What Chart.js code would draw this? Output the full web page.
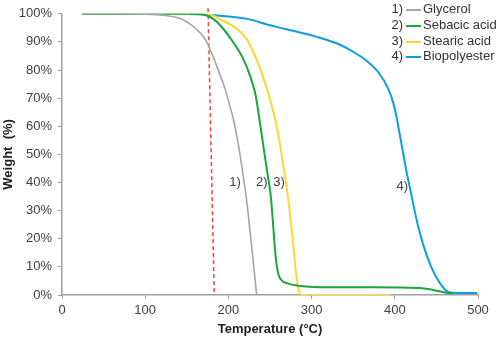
<!DOCTYPE html>
<html>
<head>
<meta charset="utf-8">
<script src="https://cdn.jsdelivr.net/npm/chart.js@4"></script>
<style>
  html, body { margin: 0; padding: 0; background: #fff; }
  #wrap { width: 498px; height: 337px; }
</style>
</head>
<body>
<div id="wrap"><canvas id="tga"></canvas></div>
<script>
// TGA curves: [temperature °C, weight %]
const glycerol = [[24,100],[60,100],[100,99.9],[125,99.4],[142,98.3],[157,95.7],[172,91],[180,86],[188,79.8],[196,73.3],[201,68],[206,62.5],[212,53.5],[218,42],[222,33.5],[228,17],[234,0]];
const sebacicAcid = [[24,100],[100,100],[150,100],[166,99.9],[182,98.1],[194,94.6],[206,89.8],[218,83.9],[226,78],[232,72],[235,67],[240,57],[246,45],[251,35],[254,24],[257,13],[260,7.5],[264,5.2],[270,4.2],[286,3.2],[310,2.8],[370,2.8],[430,2.5],[446,1.8],[463,0.7],[470,0.6]];
const stearicAcid = [[24,100],[100,100],[174,99.9],[194,97.5],[210,94.7],[222,91],[232,85],[240,79],[246,73.5],[252,67.5],[260,57],[266,46],[272,34],[278,17.7],[282,6],[286,0.5],[290,0],[395,0]];
const biopolyester = [[24,100],[100,100],[150,99.9],[190,99.3],[224,98.1],[250,95.9],[270,94.5],[306,91.8],[334,89],[350,86.5],[366,83.3],[380,79.3],[392,73.4],[398,68.5],[402,63.5],[406,57],[410,50.5],[414,44],[420,35.5],[426,27],[434,18],[444,9.8],[454,4.3],[464,1.1],[475,0.7],[499,0.7]];
const onsetLine = [[175.5,102],[183,0]];

const seriesNames = ["Glycerol", "Sebacic acid", "Stearic acid", "Biopolyester"];
const seriesColors = ["#a6a6a6", "#16a83c", "#ffd633", "#0c9ee2"];
const curveTags = ["1)", "2)", "3)", "4)"];
const tagTemps = [208, 240, 261, 409];
const tagWeights = [40, 40, 40, 38.6];
const xTicks = [0, 100, 200, 300, 400, 500];

const toPts = arr => arr.map(p => ({ x: p[0], y: p[1] }));

// legend + "1) 2) ..." tags, drawn as text on the canvas
const tagPlugin = {
    id: "tags",
    afterDatasetsDraw(chart) {
        const c = chart.ctx;
        const xs = chart.scales.x, ys = chart.scales.y;
        c.save();
        c.font = "13px 'Liberation Sans', Arial, sans-serif";
        c.fillStyle = "#404040";
        c.textBaseline = "middle";
        c.textAlign = "center";
        curveTags.forEach((t, i) => {
            c.fillText(t, xs.getPixelForValue(tagTemps[i]), ys.getPixelForValue(tagWeights[i]));
        });
        const rows = [9, 25, 41, 56];
        seriesNames.forEach((name, i) => {
            c.textAlign = "right";
            c.fillStyle = "#333";
            c.fillText(curveTags[i], 403, rows[i]);
            c.strokeStyle = seriesColors[i];
            c.lineWidth = 2;
            c.beginPath();
            c.moveTo(406, rows[i] + 1);
            c.lineTo(421, rows[i] + 1);
            c.stroke();
            c.textAlign = "left";
            c.fillText(name, 423, rows[i]);
        });
        c.restore();
    }
};

const datasets = [glycerol, sebacicAcid, stearicAcid, biopolyester].map((d, i) => ({
    label: seriesNames[i],
    data: toPts(d),
    borderColor: seriesColors[i],
    borderWidth: i === 0 ? 1.6 : 2,
    pointRadius: 0,
    cubicInterpolationMode: "monotone",
    fill: false
}));
datasets.push({
    label: "onset",
    data: toPts(onsetLine),
    borderColor: "#ff3b3b",
    borderWidth: 1.5,
    borderDash: [4, 3],
    pointRadius: 0,
    clip: false
});

new Chart(document.getElementById("tga"), {
    type: "line",
    data: { datasets },
    plugins: [tagPlugin],
    options: {
        responsive: true,
        maintainAspectRatio: false,
        animation: false,
        layout: { padding: { top: 13, right: 20, left: 0, bottom: 0 } },
        plugins: { legend: { display: false }, tooltip: { enabled: false } },
        scales: {
            x: {
                type: "linear",
                min: 0,
                max: 500,
                afterBuildTicks: s => { s.ticks = xTicks.map(v => ({ value: v })); },
                grid: { drawOnChartArea: false, drawTicks: true, tickLength: 4, color: "#a0a0a0" },
                border: { color: "#a0a0a0", width: 1.5 },
                ticks: { color: "#404040", font: { size: 13, family: "'Liberation Sans', Arial" }, padding: 4, maxRotation: 0 },
                title: { display: true, text: "Temperature (°C)", color: "#222", font: { size: 13, weight: "bold", family: "'Liberation Sans', Arial" }, padding: { top: 2, bottom: 0 } },
                afterFit: s => { s.height = 42; }
            },
            y: {
                min: 0,
                max: 100,
                ticks: { stepSize: 10, color: "#404040", font: { size: 13, family: "'Liberation Sans', Arial" }, padding: 6, callback: v => v + "%" },
                grid: { drawOnChartArea: false, drawTicks: true, tickLength: 4, color: "#a0a0a0" },
                border: { color: "#a0a0a0", width: 1.5 },
                title: { display: true, text: "Weight  (%)", color: "#222", font: { size: 13, weight: "bold", family: "'Liberation Sans', Arial" }, padding: { top: 1, bottom: 0 } },
                afterFit: s => { s.width = 62; }
            }
        }
    }
});
</script>
</body>
</html>
